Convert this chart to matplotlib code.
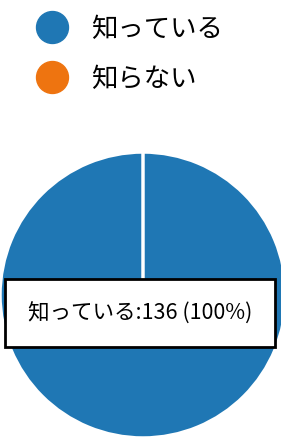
import matplotlib.pyplot as plt
from matplotlib.lines import Line2D

plt.rcParams['font.family'] = ['Noto Sans CJK JP', 'DejaVu Sans']

labels = ['知っている', '知らない']
counts = [136, 0]
colors = ['#1f77b4', '#ee7410']

W, H = 281, 439
fig = plt.figure(figsize=(W / 100, H / 100), dpi=100)
ax = fig.add_axes([0, 0, 1, 1])

# 円グラフ（ピクセル座標で配置）
cx, cy, r = 143, H - 296, 143
wedges, _ = ax.pie(counts, colors=colors, startangle=90, counterclock=False,
                   center=(cx, cy), radius=r,
                   wedgeprops=dict(edgecolor='white', linewidth=2.5))
ax.set_xlim(0, W)
ax.set_ylim(0, H)
ax.set_aspect('equal')
ax.axis('off')

total = sum(counts)
txt = f'{labels[0]}:{counts[0]} ({counts[0] / total * 100:.0f}%)'
ax.text(140, H - 314, txt, ha='center', va='center', fontsize=15.5,
        bbox=dict(boxstyle='square,pad=1.05', facecolor='white',
                  edgecolor='black', linewidth=2))

handles = [Line2D([], [], marker='o', linestyle='', markersize=23,
                  markerfacecolor=c, markeredgecolor=c) for c in colors]
ax.legend(handles, labels, loc='upper left', bbox_to_anchor=(0.015, 1.012),
          frameon=False, fontsize=19, handletextpad=0.5, labelspacing=0.88,
          borderpad=0.3)

fig.savefig('out.png', dpi=100)
